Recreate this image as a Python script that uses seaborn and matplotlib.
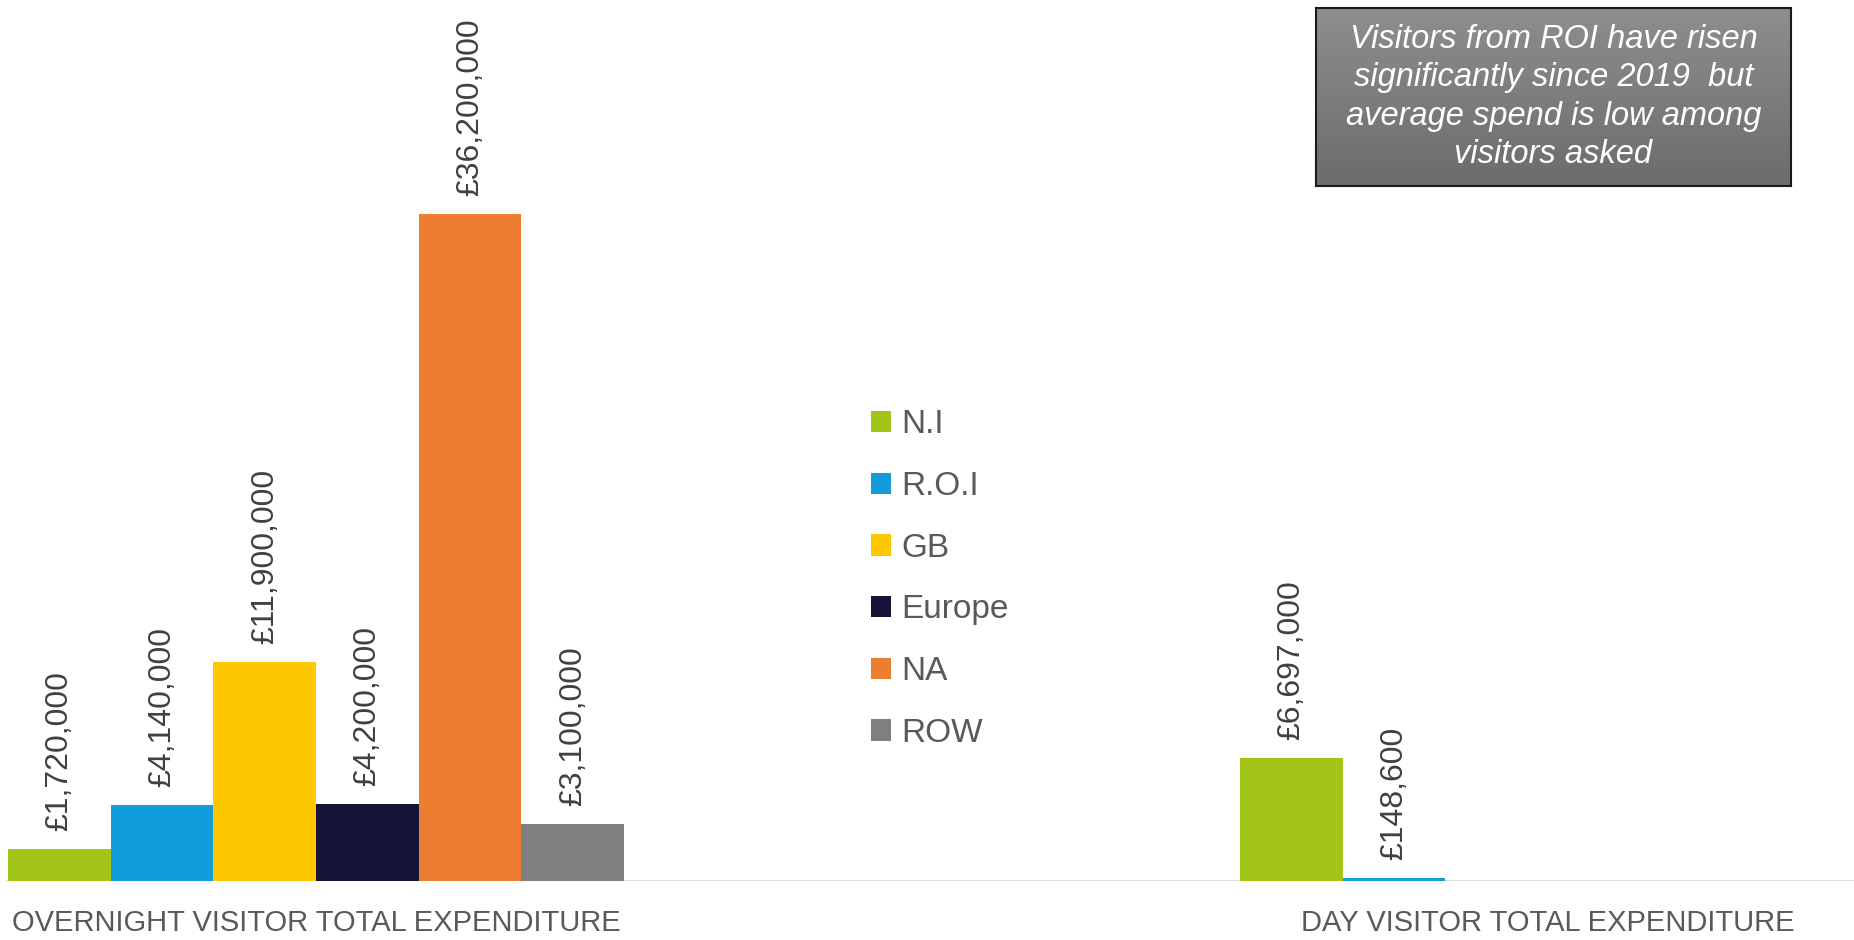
import numpy as np
import pandas as pd
import matplotlib
matplotlib.use("Agg")
import matplotlib.pyplot as plt
from matplotlib import font_manager
import seaborn as sns

# --- data -------------------------------------------------------------
categories = ["OVERNIGHT VISITOR TOTAL EXPENDITURE", "DAY VISITOR TOTAL EXPENDITURE"]
regions = ["N.I", "R.O.I", "GB", "Europe", "NA", "ROW"]
overnight_spend = [1720000, 4140000, 11900000, 4200000, 36200000, 3100000]
day_regions = ["N.I", "R.O.I"]
day_spend = [6697000, 148600]
region_colors = ["#A3C51A", "#129CDB", "#FDC800", "#151436", "#ED7D31", "#7F7F7F"]
note_text = ("Visitors from ROI have risen\nsignificantly since 2019  but\n"
             "average spend is low among\nvisitors asked")

df = pd.concat([
    pd.DataFrame({"segment": categories[0], "region": regions, "spend": overnight_spend}),
    pd.DataFrame({"segment": categories[1], "region": day_regions, "spend": day_spend}),
], ignore_index=True)

# --- fonts ------------------------------------------------------------
installed = {f.name for f in font_manager.fontManager.ttflist}
regular = "Liberation Sans" if "Liberation Sans" in installed else "DejaVu Sans"

sns.set_theme(style="white")
plt.rcParams["font.family"] = [regular, "DejaVu Sans"]

W, H = 1854, 940
fig = plt.figure(figsize=(W / 100, H / 100), dpi=100)
base_px = 881
ax = fig.add_axes([0, (H - base_px) / H, 1, base_px / H])

palette = dict(zip(regions, region_colors))
sns.barplot(data=df, x="segment", y="spend", hue="region", order=categories,
            hue_order=regions, palette=palette, saturation=1, errorbar=None,
            width=0.5, linewidth=0, ax=ax)

px_per_unit = 1232
ax.set_xlim(-0.25 - 8 / px_per_unit, -0.25 - 8 / px_per_unit + W / px_per_unit)
ax.set_ylim(0, base_px / 18.425 * 1e6)

for c in ax.containers:
    ax.bar_label(c, labels=[f"£{v:,.0f}" for v in c.datavalues], rotation=90,
                 padding=13, fontsize=23, color="#404040")

for s in ax.spines.values():
    s.set_visible(False)
ax.axhline(0, xmin=6 / W, xmax=1, color="#D9D9D9", lw=2, zorder=0.5)
ax.set_yticks([])
ax.set_xlabel("")
ax.set_ylabel("")
ax.tick_params(axis="x", length=0, pad=20, labelsize=21, labelcolor="#595959")

handles, labels = ax.get_legend_handles_labels()
ax.legend(handles, labels, loc="center left",
          bbox_to_anchor=(871 / W, 1 - 579 / H), bbox_transform=fig.transFigure,
          frameon=False, fontsize=24, labelcolor="#595959",
          handlelength=0.6, handleheight=0.6, handletextpad=0.3,
          labelspacing=0.92, borderpad=0, borderaxespad=0)

# --- note box with vertical grey gradient ------------------------------
bx0, by0, bx1, by1 = 1316, 8, 1791, 186
nax = fig.add_axes([bx0 / W, 1 - by1 / H, (bx1 - bx0) / W, (by1 - by0) / H])
grad = np.linspace(0, 1, 256).reshape(-1, 1)
top_c = np.array([0x8E, 0x8E, 0x8E]) / 255
bot_c = np.array([0x6C, 0x6C, 0x6C]) / 255
img = top_c[None, None, :] * (1 - grad[:, :, None]) + bot_c[None, None, :] * grad[:, :, None]
nax.imshow(img, aspect="auto", extent=(0, 1, 0, 1))
nax.set_xticks([])
nax.set_yticks([])
for s in nax.spines.values():
    s.set_visible(True)
    s.set_color("#1A1A1A")
    s.set_linewidth(1.5)
nax.text(0.5, 0.5, note_text, ha="center", va="center", color="white",
         fontsize=23.5, style="italic", linespacing=1.31, transform=nax.transAxes)

fig.savefig("out.png", dpi=100)
